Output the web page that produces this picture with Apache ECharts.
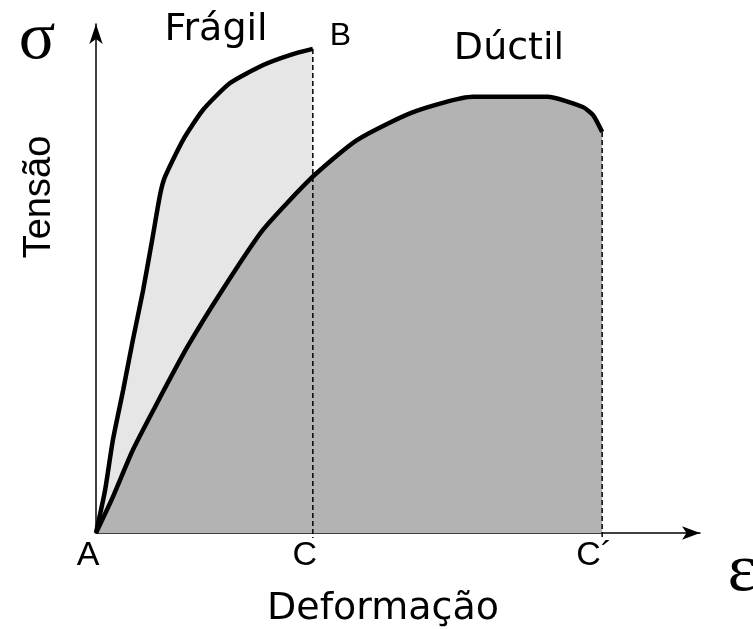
<!DOCTYPE html>
<html>
<head>
<meta charset="utf-8">
<script src="https://cdn.jsdelivr.net/npm/echarts@6.0.0/dist/echarts.min.js"></script>
<style>
  html, body { margin: 0; background: #fff; }
  #grafico { width: 753px; height: 629px; }
</style>
</head>
<body>
<div id="grafico"></div>
<script>
// Curva do material frágil (deformação, tensão) em unidades relativas 0-100
const fragilX = [0, 1.5, 2.8, 4.5, 6.1, 7.8, 9.3, 10.6, 11.4, 14.4, 17.7, 22.2, 27.6, 32.1, 35.9];
const fragilY = [0, 8.4, 18.3, 28.1, 37.9, 47.7, 57.6, 66.4, 69.9, 77.2, 83.1, 88.4, 91.9, 93.9, 95.1];

// Curva do material dúctil
const ductilX = [0, 2.8, 6.1, 10.1, 15.1, 20.9, 27.6, 35.8, 43.2, 52.5, 62.4, 74.7, 80.6, 82.3, 83.8];
const ductilY = [0, 7.1, 16.3, 25.5, 36.5, 47.7, 59.5, 69.9, 77.2, 82.7, 85.7, 85.7, 83.7, 82.1, 78.8];

// Marcas do eixo de deformação
const marcasX = [0, 35.9, 83.8];
const nomesX = ['A', 'C', 'C´'];

const pares = (xs, ys) => xs.map((x, i) => [x, ys[i]]);

const grafico = echarts.init(document.getElementById('grafico'));

// Linhas tracejadas verticais: de B até C e do fim da curva dúctil até C´
const ultimoF = fragilX.length - 1;
const ultimoD = ductilX.length - 1;
const tracejadoC = [[fragilX[ultimoF], fragilY[ultimoF]], [marcasX[1], -1]];
const tracejadoC2 = [[ductilX[ultimoD], ductilY[ultimoD]], [marcasX[2], -1]];

const linhaTracejada = dados => ({
    type: 'line',
    data: dados,
    symbol: 'none',
    clip: false,
    silent: true,
    lineStyle: { color: '#000', width: 1.5, type: [5, 3] },
    z: 5
});

const option = {
    animation: false,
    grid: { left: 96, right: 53, top: 24, bottom: 96, outerBoundsMode: 'none' },
    xAxis: {
        type: 'value',
        min: 0,
        max: 100,
        axisLine: {
            symbol: ['none', 'arrow'],
            symbolSize: [10, 18],
            lineStyle: { color: '#000', width: 1.5 }
        },
        axisTick: { show: false },
        splitLine: { show: false },
        axisLabel: {
            customValues: marcasX,
            formatter: v => nomesX[marcasX.indexOf(v)],
            fontFamily: 'Liberation Sans',
            fontSize: 34,
            color: '#000',
            margin: 6,
            padding: [0, 16, 0, 0]
        }
    },
    yAxis: {
        type: 'value',
        min: 0,
        max: 100,
        axisLine: {
            show: true,
            symbol: ['none', 'arrow'],
            symbolSize: [10, 20],
            lineStyle: { color: '#000', width: 1.5 }
        },
        axisTick: { show: false },
        axisLabel: { show: false },
        splitLine: { show: false }
    },
    graphic: [
        { type: 'text', x: 37, y: 40, style: { text: 'σ', font: '68px "Liberation Serif"', fill: '#000', align: 'center', verticalAlign: 'middle' } },
        { type: 'text', x: 742, y: 572, style: { text: 'ε', font: '68px "Liberation Serif"', fill: '#000', align: 'center', verticalAlign: 'middle' } },
        { type: 'text', x: 40, y: 197, rotation: Math.PI / 2, style: { text: 'Tensão', font: '38px "Liberation Sans"', fill: '#000', align: 'center', verticalAlign: 'middle' } },
        { type: 'text', x: 383, y: 609, style: { text: 'Deformação', font: '38px "DejaVu Sans"', fill: '#000', align: 'center', verticalAlign: 'middle' } },
        { type: 'text', x: 216, y: 30, style: { text: 'Frágil', font: '38px "DejaVu Sans"', fill: '#000', align: 'center', verticalAlign: 'middle' } },
        { type: 'text', x: 509, y: 49, style: { text: 'Dúctil', font: '38px "DejaVu Sans"', fill: '#000', align: 'center', verticalAlign: 'middle' } }
    ],
    series: [
        {
            name: 'Frágil',
            type: 'line',
            data: pares(fragilX, fragilY),
            smooth: 0.2,
            symbol: 'none',
            lineStyle: { color: '#000', width: 4.5 },
            areaStyle: { color: '#e6e6e6', opacity: 1 },
            endLabel: {
                show: true,
                formatter: 'B',
                fontFamily: 'Liberation Sans',
                fontSize: 32,
                color: '#000',
                distance: 17,
                offset: [0, -13]
            },
            z: 2
        },
        {
            name: 'Dúctil',
            type: 'line',
            data: pares(ductilX, ductilY),
            smooth: 0.2,
            symbol: 'none',
            lineStyle: { color: '#000', width: 4.5 },
            areaStyle: { color: '#b3b3b3', opacity: 1 },
            z: 3
        },
        linhaTracejada(tracejadoC),
        linhaTracejada(tracejadoC2)
    ]
};

grafico.setOption(option);
</script>
</body>
</html>
